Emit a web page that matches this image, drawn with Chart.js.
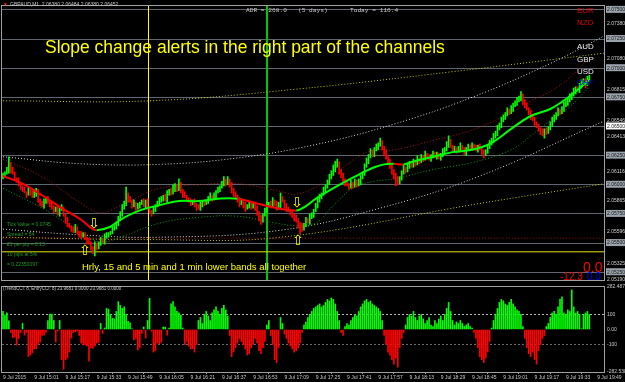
<!DOCTYPE html>
<html>
<head>
<meta charset="utf-8">
<title>GBPAUD,M1</title>
<script src="https://cdn.jsdelivr.net/npm/chart.js@4.4.1/dist/chart.umd.min.js"></script>
<style>
  html, body { margin: 0; padding: 0; background: #000; }
  body { width: 625px; height: 382px; position: relative; overflow: hidden; font-family: "Liberation Sans", Arial, sans-serif; }
  canvas { position: absolute; left: 0; }
  #priceChart { top: 0; }
  #cciChart { top: 280px; }
  .lbl { position: absolute; white-space: pre; line-height: 1; }
  .stat { font-size: 5px; color: #239b23; left: 7px; }
  .arrow { font-family: "DejaVu Sans", sans-serif; font-size: 14px; color: #ffff00; }
  .cur { font-size: 8px; left: 577px; }
</style>
</head>
<body>
<canvas id="priceChart" width="625" height="286"></canvas>
<canvas id="cciChart" width="625" height="102"></canvas>

<div class="lbl" style="left:3px;top:2px;font-size:5px;color:#ff2020">▼</div>
<div class="lbl" style="left:10px;top:2px;font-size:5px;color:#c8c8c8">GBPAUD,M1  2.06380 2.06484 2.06380 2.06452</div>
<div class="lbl" style="left:246px;top:8px;font-size:6.2px;font-family:'Liberation Mono',monospace;color:#c8c8c8">ADR = 268.0   (5 days)      Today = 116.4</div>
<div class="lbl" style="left:45px;top:39px;font-size:17.5px;color:#ffff00">Slope change alerts in the right part of the channels</div>
<div class="lbl" style="left:82px;top:262px;font-size:9.5px;color:#ffff00">Hrly, 15 and 5 min and 1 min lower bands all together</div>

<div class="lbl stat" style="top:222px">Tick Value = 0.0745</div>
<div class="lbl stat" style="top:232px">Spread = 54</div>
<div class="lbl stat" style="top:242px">£1 per pip = 0.13</div>
<div class="lbl stat" style="top:252px">10 pips at 5%</div>
<div class="lbl stat" style="top:262px">= 0.22350097</div>

<div class="lbl arrow" style="left:88px;top:216px">⇩</div>
<div class="lbl arrow" style="left:79px;top:243px">⇧</div>
<div class="lbl arrow" style="left:291px;top:195px">⇩</div>
<div class="lbl arrow" style="left:292px;top:233px">⇧</div>

<div class="lbl cur" style="top:7px;color:#e00000">EUR</div>
<div class="lbl cur" style="top:19px;color:#e00000">NZD</div>
<div class="lbl cur" style="top:43px;color:#e8e8e8">AUD</div>
<div class="lbl cur" style="top:56px;color:#e8e8e8">GBP</div>
<div class="lbl cur" style="top:68px;color:#e8e8e8">USD</div>
<div class="lbl cur" style="top:79px;color:#0000ff">CHF</div>

<div class="lbl" style="left:583px;top:260px;font-size:14px;color:#ff0000">0.0</div>
<div class="lbl" style="left:560px;top:272px;font-size:10px;color:#ff0000">-12.3</div>
<div class="lbl" style="left:587px;top:272px;font-size:10px;color:#0000ff">0.0</div>
<div class="lbl" style="left:3px;top:287px;font-size:4.5px;color:#c8c8c8">(TrendCCI: 8, EntryCCI: 8) 23.9681 0.0000 23.9681 0.0000</div>

<script>
// prices are kept in pips above BASE, one bar per minute from 14:45
const BASE = 2.05
const START_MIN = 14 * 60 + 45
const firstOpen = 106

const closes = [
  108,110,112,118,113,110,106,104,100,98,
  96,94,92,95,93,90,92,95,88,84,
  82,85,88,86,84,80,78,80,76,79,
  80,75,70,66,64,62,60,63,60,58,
  56,58,55,52,50,46,44,48,46,50,
  53,51,55,57,58,60,62,64,66,70,
  75,80,84,92,88,86,82,84,80,82,
  84,85,83,86,80,78,76,79,82,84,
  86,88,90,87,92,95,93,97,99,96,
  100,95,92,90,88,86,84,86,83,81,
  80,82,85,84,86,88,90,88,91,94,
  96,98,100,103,101,104,100,96,92,90,
  87,84,86,82,80,82,84,81,83,80,
  76,72,70,74,78,82,84,82,86,84,
  80,82,88,86,82,80,78,76,74,72,
  70,66,64,62,66,70,68,72,74,78,
  82,86,90,92,95,98,102,106,110,113,
  116,118,112,108,104,102,100,98,101,99,
  103,100,102,106,110,116,120,124,128,126,
  130,132,134,136,132,128,124,120,116,112,
  108,104,102,106,110,114,112,116,118,116,
  120,118,122,120,124,122,126,124,122,125,
  127,124,126,123,125,128,130,134,137,133,
  130,131,129,131,133,130,128,131,133,131,
  134,132,130,133,131,128,126,129,132,135,
  138,141,144,148,151,155,158,160,163,162,
  165,168,170,172,174,176,172,168,165,162,
  158,156,153,150,148,146,144,147,145,148,
  152,155,158,160,163,162,165,168,170,172,
  175,177,180,182,181,184,187,189,186,190,
  192
]

const wickUp = [
  2,1,3,6,1,2,1,0,2,1, 1,2,0,3,1,2,4,2,1,0, 2,3,1,2,0,1,2,1,2,1,
  3,1,0,2,1,1,2,3,1,0, 2,1,1,0,2,1,1,3,2,1, 2,1,3,2,1,0,2,1,2,3,
  2,3,2,6,1,2,1,3,1,2, 1,2,3,1,2,1,0,2,1,2, 3,2,1,2,3,1,2,3,2,1,
  5,2,1,2,1,1,2,1,2,1, 2,3,1,2,1,2,3,1,2,1, 2,1,3,4,2,3,1,2,1,2,
  1,2,2,1,3,1,2,1,2,1, 2,1,2,1,2,3,1,2,3,1, 2,3,5,2,1,2,1,1,2,1,
  2,1,2,3,1,2,1,3,2,1, 2,3,2,1,3,2,2,3,2,4, 4,4,2,1,2,1,2,1,3,1,
  2,1,3,2,1,2,3,2,3,2, 2,3,2,4,2,1,2,1,2,1, 1,2,3,1,2,3,1,2,2,1,
  2,1,3,1,2,1,3,1,2,1, 2,1,2,1,2,3,2,3,5,2, 1,2,1,2,3,1,2,1,2,1,
  2,1,2,1,2,1,2,1,2,3, 2,3,2,3,2,3,2,2,3,2, 3,2,2,3,2,4,2,1,2,1,
  2,1,2,1,2,1,2,1,2,2, 2,3,2,2,3,2,2,3,2,2, 3,2,3,2,2,3,3,2,2,3,
  2
]

const wickDown = [
  1,2,1,2,3,1,2,2,1,2, 2,1,3,1,2,1,1,2,3,2, 1,2,1,2,3,1,2,1,2,3,
  1,2,3,2,1,2,1,1,2,3, 2,1,2,3,1,2,3,5,2,1, 2,1,2,1,2,1,2,1,2,1,
  1,2,1,2,3,1,2,1,2,1, 2,1,2,3,1,2,3,1,2,1, 2,1,2,1,2,1,2,1,3,2,
  1,2,3,1,2,1,2,1,2,3, 1,2,1,2,1,2,1,2,1,2, 1,2,1,1,2,1,2,3,2,1,
  2,3,1,2,3,1,2,2,1,2, 2,3,4,2,1,2,1,2,1,2, 2,1,2,1,2,3,1,2,2,3,
  2,3,6,2,1,2,1,2,1,2, 1,2,1,2,1,2,1,2,1,2, 2,1,3,2,2,3,1,2,1,2,
  1,2,1,2,1,2,1,2,1,2, 2,1,2,1,2,3,2,1,2,3, 3,5,2,1,2,1,2,1,2,1,
  1,2,1,2,1,2,1,2,1,2, 2,1,2,1,2,1,2,1,2,1, 2,1,2,1,2,1,2,3,1,2,
  1,2,1,2,1,2,3,1,2,1, 1,2,1,2,1,2,1,2,1,2, 1,2,1,2,1,2,3,2,1,2,
  2,1,2,1,2,3,2,4,2,1, 1,2,1,2,1,2,1,2,1,2, 1,2,1,2,1,2,1,2,3,1,
  1
]

// TrendCCI histogram, one value per bar
const cci = [
  120,95,110,57,-20,-55,-50,-103,-60,-20,
  40,-37,-20,-180,-170,-155,-130,-127,-100,-83,
  -40,-37,-20,60,103,100,60,-83,-10,60,
  -200,-263,-200,-190,-150,-57,-20,-15,-10,-40,
  -90,-100,-103,-110,-210,-120,-125,-110,-90,-85,
  40,-25,10,140,135,100,75,70,120,185,
  160,140,150,100,55,45,5,-70,-60,-137,
  -120,-25,17,-57,60,207,-10,-150,-140,-90,
  -95,-85,17,15,-37,10,170,185,150,120,
  110,95,10,-100,-80,-110,-130,-127,-150,-100,
  60,80,40,100,120,90,60,110,130,150,120,100,140,160,130,90,
  -40,-180,-150,-120,-90,-60,-80,-100,-130,-170,-160,-120,-100,-60,-90,-140,-160,
  -120,-80,30,60,-40,-100,-200,-220,-120,
  80,40,-30,-60,-90,-110,-130,-150,-140,
  -120,-90,-20,30,50,80,100,120,140,150,
  160,170,150,160,180,200,190,210,200,170,120,60,-20,-40,20,
  40,30,60,80,100,90,120,150,170,190,200,180,190,170,160,150,140,
  120,60,-40,-100,-150,-170,-200,-230,-190,-250,-120,-60,-20,
  30,80,100,90,120,80,60,90,100,70,40,60,80,30,20,60,40,70,90,60,
  100,140,180,120,60,30,50,40,60,40,20,30,40,20,10,
  -20,-60,-120,-180,-200,-220,-190,-150,-80,10,
  60,100,140,180,200,190,170,160,180,200,170,150,130,120,100,
  20,-60,-120,-160,-180,-150,-200,-230,-140,-100,-60,-40,20,40,80,
  110,120,100,150,200,217,110,100,130,120,263,150,110,120,100,5,100,110,120,100
]

// moving average and its bands (bar index / pips)
const maBars = [0,10,20,30,40,45,48,55,60,70,80,90,100,110,120,130,140,150,155,160,170,180,190,195,200,205,210,220,230,240,250,260,270,280,290,300]
const maVals = [107.5,101,91,80,70,63,61,64,70,78,82.5,86,86,88,88,84,80,78,81.7,88,98,107,115,117.5,118,117.5,120,124,128,130,136,148,159,165,176,190]
const bandBars = [0,20,40,50,60,80,100,120,140,150,160,170,180,190,200,220,240,260,270,280,290,300]
const bandUpper = [122,107,84,76,82,97,100,101,95,92,98,109,122,130,130,138,147,162,172,180,192,209]
const bandLower = [97,80,59,51,55,67,72,73,67,65,67,84,98,103,105,113,119,130,142,155,167,184]

// slower channels
const whiteHiBars = [0,40,80,120,160,200,240,280,308]
const whiteHi = [124,118,117.5,123,134.5,152,175,204,228]
const whiteLoBars = [0,40,80,142,193,244,308]
const whiteLo = [62,57,55,61,80,107.5,155]
const yellowLoBars = [0,75,142,244,308]
const yellowLo = [55,53,55,84,101]
const yellowHiBars = [0,75,150,230,308]
const yellowHi = [172,172,182,197,213]

const redLevel = 54.2
const yellowLevel = 42.5

const levelPips = [25,50,75,100,125,150,175,200,225,250]
const scalePips = [19,32.5,59.6,86.5,111.6,141.3,154.6,181.5,208,238]
const markers = [{ time: '15:59', color: '#ffff00', width: 1 }, { time: '17:00', color: '#00c800', width: 2 }]
const timeTicks = [0,16,32,48,64,80,96,112,128,144,160,176,192,208,224,240,256,272,288,304]
const cciTicks = [-282.5388, -100, 0, 100, 282.4871]

function toBar(t) {
  const p = t.split(':')
  return +p[0] * 60 + +p[1] - START_MIN
}

function fmtTime(bar) {
  if (bar === 0) return '9 Jul 2015'
  const m = START_MIN + bar
  return '9 Jul ' + Math.floor(m / 60) + ':' + String(m % 60).padStart(2, '0')
}

function pts(xs, ys) {
  return xs.map((x, k) => ({ x: x, y: ys[k] }))
}

const candles = closes.map((c, i) => {
  const o = i ? closes[i - 1] : firstOpen
  return { x: i, y: [Math.min(o, c) - wickDown[i], Math.max(o, c) + wickUp[i]], up: c >= o }
})

const framePlugin = {
  id: 'frame',
  beforeDatasetsDraw(chart, args, opts) {
    const ctx = chart.ctx, a = chart.chartArea
    ;(opts.markers || []).forEach(m => {
      let x = Math.round(chart.scales.x.getPixelForValue(toBar(m.time)))
      if (m.width % 2) x += 0.5
      ctx.save()
      ctx.strokeStyle = m.color
      ctx.lineWidth = m.width
      ctx.beginPath()
      ctx.moveTo(x, a.top)
      ctx.lineTo(x, a.bottom)
      ctx.stroke()
      ctx.restore()
    })
  },
  afterDraw(chart) {
    const ctx = chart.ctx, a = chart.chartArea
    ctx.save()
    ctx.strokeStyle = '#a0a0a0'
    ctx.lineWidth = 1
    ctx.strokeRect(a.left - 0.5, a.top - 0.5, a.right - a.left + 1, a.bottom - a.top + 1)
    ctx.restore()
  }
}

function dotted(data, color, order) {
  return {
    type: 'line', data: data, borderColor: color, borderWidth: 1, borderDash: [1, 2],
    pointRadius: 0, tension: 0.4, fill: false, order: order
  }
}

const xRange = { type: 'linear', min: -0.5, max: 307.5, offset: false }
const tickFont = { family: 'Liberation Sans', size: 5 }

new Chart(document.getElementById('priceChart'), {
  type: 'bar',
  data: {
    datasets: [
      {
        type: 'line', data: pts(maBars, maVals), borderWidth: 2, pointRadius: 0, tension: 0.4, order: 1,
        borderColor: '#00ff00',
        segment: { borderColor: c => c.p1.parsed.y < c.p0.parsed.y ? '#ff0000' : '#00ff00' }
      },
      {
        type: 'bar', data: candles, barThickness: 1, order: 2,
        backgroundColor: candles.map(d => d.up ? '#00ff00' : '#ff0000')
      },
      dotted(pts(bandBars, bandUpper), '#b01010', 3),
      dotted(pts(bandBars, bandLower), '#129a12', 3),
      dotted(pts(whiteHiBars, whiteHi), '#d8d8d8', 4),
      dotted(pts(whiteLoBars, whiteLo), '#d8d8d8', 4),
      dotted(pts(yellowLoBars, yellowLo), '#c8c800', 4),
      dotted(pts(yellowHiBars, yellowHi), '#c8c800', 4),
      dotted([{ x: -0.5, y: redLevel }, { x: 307.5, y: redLevel }], '#a00000', 5),
      {
        type: 'line', data: [{ x: -0.5, y: yellowLevel }, { x: 307.5, y: yellowLevel }],
        borderColor: '#e6e600', borderWidth: 1, pointRadius: 0, order: 5
      }
    ]
  },
  options: {
    responsive: false, animation: false, events: [],
    layout: { padding: { left: 2, top: 2, bottom: 2, right: 0 } },
    plugins: { legend: { display: false }, tooltip: { enabled: false }, frame: { markers: markers } },
    scales: {
      x: Object.assign({ display: false }, xRange),
      y: {
        position: 'right', min: 18.33, max: 253.33,
        afterFit: s => { s.width = 21 },
        afterBuildTicks: s => { s.ticks = levelPips.concat(scalePips).sort((a, b) => a - b).map(v => ({ value: v })) },
        grid: { drawTicks: false, color: c => levelPips.includes(c.tick.value) ? '#5f6670' : 'rgba(0,0,0,0)' },
        border: { display: false },
        ticks: {
          autoSkip: false, padding: 3, font: tickFont,
          color: c => levelPips.includes(c.tick.value) ? '#1a1a1a' : '#d0d0d0',
          showLabelBackdrop: c => levelPips.includes(c.tick.value),
          backdropColor: c => c.tick.value === 150 ? '#ffffff' : '#9aa2ab',
          backdropPadding: { left: 1, right: 1, top: 1, bottom: 0 },
          callback: v => (BASE + v / 10000).toFixed(5)
        }
      }
    }
  },
  plugins: [framePlugin]
})

new Chart(document.getElementById('cciChart'), {
  type: 'bar',
  data: {
    datasets: [{
      data: cci.map((v, i) => ({ x: i, y: v })), barThickness: 1,
      backgroundColor: cci.map(v => v >= 0 ? '#00ff00' : '#ff0000')
    }]
  },
  options: {
    responsive: false, animation: false, events: [],
    layout: { padding: { left: 2, top: 7, bottom: 0, right: 0 } },
    plugins: { legend: { display: false }, tooltip: { enabled: false } },
    scales: {
      x: Object.assign({
        position: 'bottom',
        afterBuildTicks: s => { s.ticks = timeTicks.map(v => ({ value: v })) },
        afterFit: s => { s.height = 10 },
        grid: { drawOnChartArea: false, drawTicks: true, tickLength: 2, color: '#9a9a9a' },
        border: { display: false },
        ticks: { autoSkip: false, maxRotation: 0, align: 'start', padding: 1, color: '#c8c8c8', font: tickFont, callback: v => fmtTime(v) }
      }, xRange),
      y: {
        position: 'right', min: -282.5388, max: 282.4871,
        afterFit: s => { s.width = 21 },
        afterBuildTicks: s => { s.ticks = cciTicks.map(v => ({ value: v })) },
        grid: {
          drawTicks: false,
          color: c => c.tick.value === 100 ? '#b4b4b4' : c.tick.value === -100 ? '#6a6a6a' : 'rgba(0,0,0,0)'
        },
        border: { display: false, dash: [2, 2] },
        ticks: {
          autoSkip: false, padding: 3, color: '#c8c8c8', font: tickFont,
          callback: v => v === 0 ? '0.00' : Math.abs(v) === 100 ? String(v) : v.toFixed(4)
        }
      }
    }
  },
  plugins: [framePlugin]
})
</script>
</body>
</html>
